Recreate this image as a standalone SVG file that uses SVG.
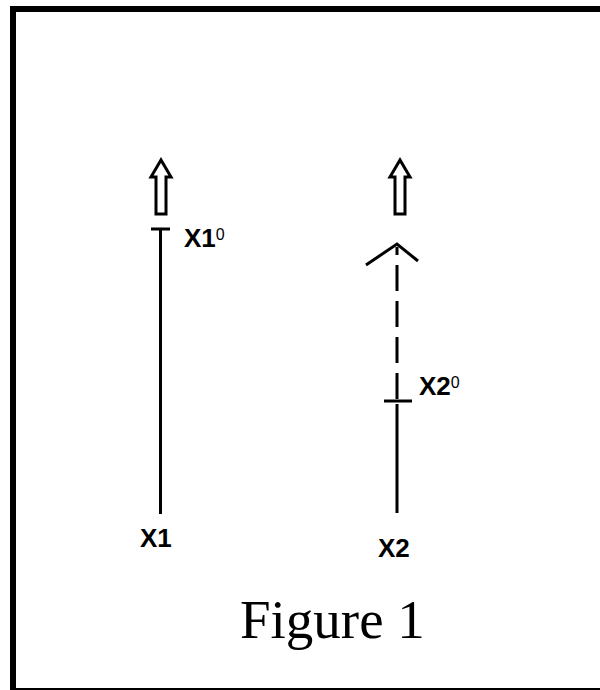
<svg xmlns="http://www.w3.org/2000/svg" width="600" height="690" viewBox="0 0 600 690">
<style>
.ln{stroke:#000;stroke-width:3;fill:none}
.arr{stroke:#000;stroke-width:3;fill:#fff;stroke-linejoin:miter}
.lbl{font-family:"Liberation Sans",Arial,sans-serif;font-size:26px;font-weight:bold;fill:#000}
.sup{font-size:16px;font-weight:normal}
</style>
<rect x="0" y="0" width="600" height="690" fill="#fff"/>
<rect x="13" y="9" width="600" height="682" fill="none" stroke="#000" stroke-width="6"/>
<g id="connectors">
<line class="ln" x1="160.5" y1="229" x2="160.5" y2="514"/>
<line class="ln" x1="397" y1="399" x2="397" y2="247" stroke-dasharray="26,10"/>
<line class="ln" x1="397" y1="404" x2="397" y2="513"/>
<polyline class="ln" points="366,265 397,244 418,261"/>
</g>
<g id="node-x1">
<line class="ln" x1="151" y1="229" x2="170" y2="229"/>
<path class="arr" d="M156,214 L156,177 L151,177 L161,160 L171,177 L166,177 L166,214 Z"/>
<text class="lbl" x="184" y="247">X1<tspan class="sup" dy="-7">0</tspan></text>
<text class="lbl" x="140" y="547">X1</text>
</g>
<g id="node-x2">
<line class="ln" x1="384" y1="401" x2="412" y2="401"/>
<path class="arr" d="M395,214 L395,177 L390,177 L400,160 L410,177 L405,177 L405,214 Z"/>
<text class="lbl" x="419" y="395">X2<tspan class="sup" dy="-7">0</tspan></text>
<text class="lbl" x="378" y="557">X2</text>
</g>
<text x="240" y="638" font-family="Liberation Serif,'Times New Roman',serif" font-size="55" fill="#000">Figure 1</text>
</svg>
